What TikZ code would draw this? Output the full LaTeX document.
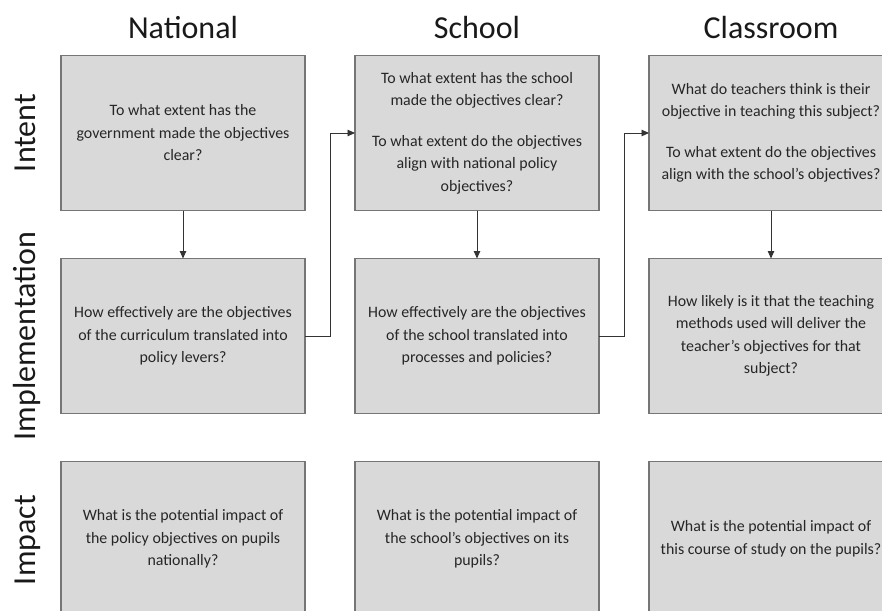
\documentclass[tikz,border=0pt]{standalone}
\usepackage{fontspec}
\setmainfont{Carlito}
\usetikzlibrary{positioning, arrows.meta}
\definecolor{boxgrey}{HTML}{D9D9D9}
\definecolor{edgegrey}{HTML}{767676}
\definecolor{textgrey}{HTML}{262626}
\tikzstyle{greybox} = [rectangle, minimum width=244pt, minimum height=155pt, draw=edgegrey, line width=1.1pt, fill=boxgrey, align=center, font=\fontsize{15.9}{22.5}\selectfont, text=textgrey, inner sep=0pt, outer sep=0pt]
\tikzstyle{header} = [font=\fontsize{32}{37}\selectfont, inner sep=0pt, text=black!90]
\tikzstyle{rowlabel} = [header, rotate=90, anchor=base]
\tikzstyle{arrow} = [line width=0.9pt, ->, >={Triangle[length=7.5pt,width=6.5pt]}, draw=black!80]

\begin{document}
\begin{tikzpicture}[node distance=48pt and 50pt]
      \useasboundingbox (0pt,0pt) rectangle (882pt,-610pt);

      \node (natintent) [greybox] at (183pt,-133pt) {To what extent has the\\government made the objectives\\clear?};
      \node (natimpl) [greybox, below=of natintent] {How effectively are the objectives\\of the curriculum translated into\\policy levers?};
      \node (natimpact) [greybox, below=of natimpl] {What is the potential impact of\\the policy objectives on pupils\\nationally?};

      \node (schintent) [greybox, right=of natintent] {To what extent has the school\\made the objectives clear?\\[18pt]To what extent do the objectives\\align with national policy\\objectives?};
      \node (schimpl) [greybox, below=of schintent] {How effectively are the objectives\\of the school translated into\\processes and policies?};
      \node (schimpact) [greybox, below=of schimpl] {What is the potential impact of\\the school’s objectives on its\\pupils?};

      \node (clsintent) [greybox, right=of schintent] {What do teachers think is their\\objective in teaching this subject?\\[18pt]To what extent do the objectives\\align with the school’s objectives?};
      \node (clsimpl) [greybox, below=of clsintent] {How likely is it that the teaching\\methods used will deliver the\\teacher’s objectives for that\\subject?};
      \node (clsimpact) [greybox, below=of clsimpl] {What is the potential impact of\\this course of study on the pupils?};

      \node (national) [header, above=17pt of natintent] {National};
      \node (school) [header, above=17pt of schintent] {School};
      \node (classroom) [header, above=17pt of clsintent] {Classroom};

      \node (intent) [rowlabel] at (35pt,-133pt) {Intent};
      \node (implementation) [rowlabel] at (35pt,-336pt) {Implementation};
      \node (impact) [rowlabel] at (35pt,-540pt) {Impact};

      \draw [arrow] (natintent) -- (natimpl);
      \draw [arrow] (schintent) -- (schimpl);
      \draw [arrow] (clsintent) -- (clsimpl);

      \draw [arrow] (natimpl.east) -- ++(25pt,0) |- (schintent.west);
      \draw [arrow] (schimpl.east) -- ++(25pt,0) |- (clsintent.west);
    \end{tikzpicture}
\end{document}
